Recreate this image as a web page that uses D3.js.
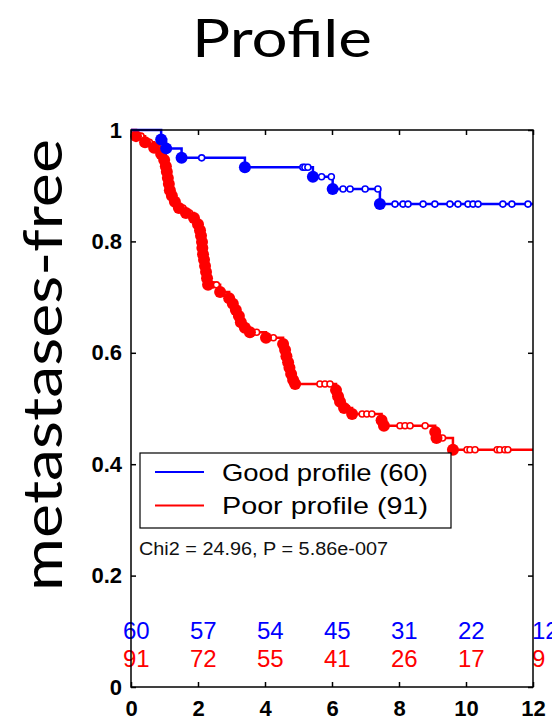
<!DOCTYPE html>
<html>
<head>
<meta charset="utf-8">
<script src="https://cdn.jsdelivr.net/npm/d3@7"></script>
<style>
  html, body { margin: 0; padding: 0; background: #fff; }
  svg { display: block; }
</style>
</head>
<body>
<svg id="chart" width="552" height="720"></svg>
<script>
// ---------- data ----------
const titleText = "Profile";
const yLabelText = "metastases-free";

const xTicks = [0, 2, 4, 6, 8, 10, 12];
const yTicks = [0, 0.2, 0.4, 0.6, 0.8, 1];
const yTickLabels = ["0", "0.2", "0.4", "0.6", "0.8", "1"];

// Good profile (blue): event times and survival after each event
const goodTimes = [0.90, 1.05, 1.51, 3.40, 5.43, 6.02, 7.43];
const goodSurv  = [0.983, 0.967, 0.950, 0.933, 0.916, 0.894, 0.867];
const goodCensor = [2.11, 5.13, 5.19, 5.28, 5.69, 5.98, 6.33, 6.54, 6.99, 7.37,
                    7.88, 8.12, 8.27, 8.72, 9.07, 9.52, 9.76, 10.06, 10.21, 10.36,
                    11.10, 11.37, 11.85];

// Poor profile (red)
const poorTimes = [0.15, 0.42, 0.69, 0.90, 0.99, 1.04, 1.07, 1.10, 1.13, 1.16,
                   1.22, 1.31, 1.43, 1.64, 1.88, 2.00, 2.06, 2.09, 2.12, 2.13,
                   2.15, 2.18, 2.21, 2.24, 2.27, 2.30, 2.66, 2.93, 3.04, 3.13,
                   3.22, 3.28, 3.40, 3.55, 4.03, 4.54, 4.60, 4.64, 4.69, 4.73,
                   4.78, 4.84, 4.90, 6.12, 6.18, 6.24, 6.36, 6.60, 7.48, 7.55,
                   9.08, 9.12, 9.61];
const poorSurv  = [0.989, 0.978, 0.968, 0.957, 0.946, 0.935, 0.925, 0.914, 0.903, 0.892,
                   0.882, 0.871, 0.860, 0.851, 0.842, 0.831, 0.820, 0.810, 0.799, 0.788,
                   0.777, 0.767, 0.756, 0.745, 0.734, 0.722, 0.709, 0.698, 0.688, 0.677,
                   0.666, 0.655, 0.645, 0.637, 0.627, 0.616, 0.605, 0.594, 0.583, 0.573,
                   0.562, 0.551, 0.544, 0.533, 0.522, 0.512, 0.501, 0.490, 0.479, 0.469,
                   0.458, 0.447, 0.426];
const poorCensor = [0.30, 0.55, 0.80, 1.45, 1.55, 1.75, 2.45, 2.55, 3.75, 4.25, 5.64, 5.79, 5.94,
                    6.45, 6.90, 7.04, 7.19, 8.03, 8.18, 8.33, 8.78,
                    9.30, 10.03, 10.12, 10.27, 10.93, 11.01, 11.16, 11.25];

const riskTimes = [0, 2, 4, 6, 8, 10, 12];
const goodAtRisk = [60, 57, 54, 45, 31, 22, 12];
const poorAtRisk = [91, 72, 55, 41, 26, 17, 9];

const legendLabels = ["Good profile (60)", "Poor profile (91)"];
const statsText = "Chi2 = 24.96, P = 5.86e-007";

const BLUE = "#0000ff", RED = "#ff0000";

// ---------- layout ----------
const svg = d3.select("#chart");
const L = 131, R = 533, T = 130, B = 687;
const x = d3.scaleLinear().domain([0, 12]).range([L, R]);
const y = d3.scaleLinear().domain([0, 1]).range([B, T]);

// title
svg.append("text")
  .attr("x", 282).attr("y", 57)
  .attr("text-anchor", "middle")
  .attr("font-family", "'Comic Sans MS', Lato, sans-serif")
  .attr("font-size", 52)
  .attr("textLength", 180).attr("lengthAdjust", "spacingAndGlyphs")
  .text(titleText);

// y label
svg.append("text")
  .attr("transform", "translate(62,365) rotate(-90)")
  .attr("text-anchor", "middle")
  .attr("font-family", "'Comic Sans MS', Lato, sans-serif")
  .attr("font-size", 54)
  .attr("textLength", 452).attr("lengthAdjust", "spacingAndGlyphs")
  .text(yLabelText);

// axes
const fontAxis = "'Liberation Sans', Arial, sans-serif";
const gx = svg.append("g").attr("transform", `translate(0,${B})`)
  .call(d3.axisBottom(x).tickValues(xTicks).tickSizeInner(-5).tickSizeOuter(0).tickPadding(13));
const gy = svg.append("g").attr("transform", `translate(${L},0)`)
  .call(d3.axisLeft(y).tickValues(yTicks).tickSizeInner(-5).tickSizeOuter(0).tickPadding(9)
    .tickFormat((d, i) => yTickLabels[i]));
const gt = svg.append("g").attr("transform", `translate(0,${T})`)
  .call(d3.axisTop(x).tickValues(xTicks).tickSizeInner(-5).tickSizeOuter(0).tickFormat(""));
const gr = svg.append("g").attr("transform", `translate(${R},0)`)
  .call(d3.axisRight(y).tickValues(yTicks).tickSizeInner(-5).tickSizeOuter(0).tickFormat(""));
[gx, gy, gt, gr].forEach(g => {
  g.select(".domain").remove();
  g.selectAll(".tick line").attr("stroke", "#000").attr("stroke-width", 1.5);
  g.selectAll(".tick text").attr("font-family", fontAxis).attr("font-size", 22)
    .attr("font-weight", "bold").attr("fill", "#000");
});

// risk table (below curves)
function riskRow(vals, color, baseline) {
  svg.append("g").selectAll("text").data(vals).join("text")
    .attr("x", (d, i) => x(riskTimes[i]) + (riskTimes[i] === 12 ? -1 : -8))
    .attr("y", baseline)
    .attr("font-family", fontAxis).attr("font-size", 24)
    .attr("fill", color)
    .text(d => d);
}
riskRow(goodAtRisk, BLUE, 639);
riskRow(poorAtRisk, RED, 667);

// curves
function levelAt(times, surv, t) {
  let s = 1;
  for (let i = 0; i < times.length; i++) if (times[i] <= t) s = surv[i];
  return s;
}
function drawCurve(times, surv, censor, color, r) {
  const pts = [[0, 1]].concat(times.map((t, i) => [t, surv[i]]));
  pts.push([12, surv[surv.length - 1]]);
  const line = d3.line().x(d => x(d[0])).y(d => y(d[1])).curve(d3.curveStepAfter);
  const g = svg.append("g");
  g.append("path").attr("d", line(pts)).attr("fill", "none")
    .attr("stroke", color).attr("stroke-width", 2.5);
  g.selectAll("circle.cs").data(censor).join("circle")
    .attr("class", "cs")
    .attr("cx", d => x(d)).attr("cy", d => y(levelAt(times, surv, d)))
    .attr("r", 3).attr("fill", "#fff").attr("stroke", color).attr("stroke-width", 1.6);
  g.selectAll("circle.ev").data(times).join("circle")
    .attr("class", "ev")
    .attr("cx", d => x(d)).attr("cy", (d, i) => y(surv[i]))
    .attr("r", r).attr("fill", color);
}
drawCurve(poorTimes, poorSurv, poorCensor, RED, 6);
drawCurve(goodTimes, goodSurv, goodCensor, BLUE, 6);

// frame
svg.append("rect").attr("x", L).attr("y", T).attr("width", R - L).attr("height", B - T)
  .attr("fill", "none").attr("stroke", "#000").attr("stroke-width", 1.5);

// legend
const lg = svg.append("g");
lg.append("rect").attr("x", 140).attr("y", 453).attr("width", 311).attr("height", 75)
  .attr("fill", "#fff").attr("stroke", "#000").attr("stroke-width", 1.2);
[BLUE, RED].forEach((c, i) => {
  const yy = 472 + i * 33.5;
  lg.append("line").attr("x1", 155).attr("x2", 204).attr("y1", yy).attr("y2", yy)
    .attr("stroke", c).attr("stroke-width", 2);
  lg.append("text").attr("x", 222).attr("y", yy + 8.5)
    .attr("font-family", fontAxis).attr("font-size", 24)
    .attr("textLength", 206).attr("lengthAdjust", "spacingAndGlyphs")
    .text(legendLabels[i]);
});

// stats text
svg.append("text").attr("x", 139).attr("y", 555)
  .attr("font-family", fontAxis).attr("font-size", 18)
  .attr("textLength", 249).attr("lengthAdjust", "spacingAndGlyphs")
  .attr("fill", "#111")
  .text(statsText);
</script>
</body>
</html>
